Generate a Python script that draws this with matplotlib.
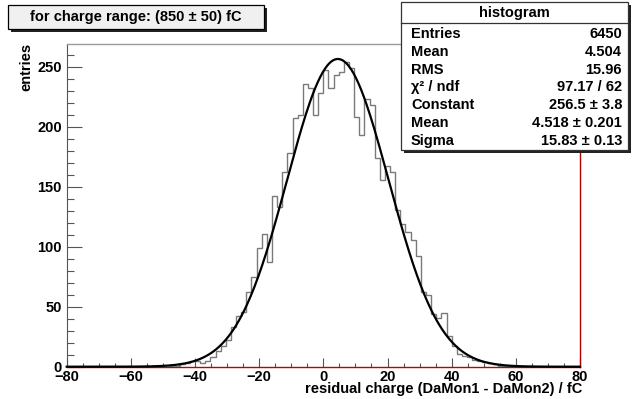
import numpy as np
import matplotlib.pyplot as plt
from matplotlib.patches import Rectangle
from matplotlib.ticker import MultipleLocator

plt.rcParams['font.family'] = ['Liberation Sans', 'DejaVu Sans']
plt.rcParams['font.weight'] = 'bold'

# ---- histogram: 100 bins from -80 to 80 fC ----
bin_lo = -80.0
bin_hi = 80.0
counts = [
    0, 0, 0, 0, 0, 0, 0, 0, 0, 0,
    0, 0, 0, 0, 0, 0, 0, 0, 0, 0,
    1, 1, 2, 3, 5, 5, 3, 5, 8, 13,
    17, 22, 33, 42, 46, 62, 75, 99, 111, 87,
    142, 133, 162, 178, 207, 210, 236, 232, 210, 228,
    247, 232, 243, 246, 254, 249, 208, 193, 223, 218,
    174, 156, 167, 162, 131, 119, 112, 106, 92, 62,
    60, 44, 41, 45, 26, 17, 11, 9, 8, 6,
    5, 4, 3, 2, 1, 1, 1, 0, 0, 0,
    0, 0, 0, 0, 0, 0, 0, 0, 0, 0,
]

# gaussian fit result (from the stat box)
fit_const = 256.5
fit_mean = 4.518
fit_sigma = 15.83

title_text = 'for charge range: (850 \u00b1 50) fC'
stat_labels = ['Entries', 'Mean', 'RMS', '\u03c7\u00b2 / ndf', 'Constant', 'Mean', 'Sigma']
stat_values = ['6450', '4.504', '15.96', '97.17 / 62',
               '256.5 \u00b1 3.8', '4.518 \u00b1 0.201', '15.83 \u00b1 0.13']

W, H = 636, 399
fig = plt.figure(figsize=(W / 100, H / 100), dpi=100, facecolor='white')

# plot frame in pixels: x 66.7..580, y 44..366.7
ax = fig.add_axes([66.7 / W, 1 - 366.7 / H, (580 - 66.7) / W, (366.7 - 44) / H])

edges = np.linspace(bin_lo, bin_hi, len(counts) + 1)
ax.stairs(counts, edges, color='#7a7a7a', lw=1.0, zorder=3)

xs = np.linspace(bin_lo, bin_hi, 400)
ax.plot(xs, fit_const * np.exp(-0.5 * ((xs - fit_mean) / fit_sigma) ** 2),
        color='black', lw=1.6, zorder=4, clip_on=False)

ax.set_xlim(bin_lo, bin_hi)
ax.set_ylim(0, 269)

ax.xaxis.set_major_locator(MultipleLocator(20))
ax.xaxis.set_minor_locator(MultipleLocator(5))
ax.yaxis.set_major_locator(MultipleLocator(50))
ax.yaxis.set_minor_locator(MultipleLocator(10))

ax.tick_params(axis='y', which='major', direction='in', length=11, width=0.8,
               color='#555555', pad=3.6, labelsize=10.5)
ax.tick_params(axis='y', which='minor', direction='in', length=5.2, width=0.8,
               color='#555555')
ax.tick_params(axis='x', which='major', direction='in', length=6.3, width=0.8,
               color='#555555', pad=2.5, labelsize=10.5)
ax.tick_params(axis='x', which='minor', direction='in', length=3.2, width=0.8,
               color='#555555')
for lab in ax.get_xticklabels() + ax.get_yticklabels():
    lab.set_fontweight('bold')

ax.spines['left'].set_color('#555555')
ax.spines['left'].set_linewidth(0.8)
ax.spines['top'].set_color('#9a9a9a')
ax.spines['top'].set_linewidth(1.0)
ax.spines['right'].set_color('#b00000')
ax.spines['right'].set_linewidth(1.0)
ax.spines['bottom'].set_color('#c00000')
ax.spines['bottom'].set_linewidth(1.0)
ax.spines['bottom'].set_zorder(2)

fig.text(582 / W, 1 - 393 / H, 'residual charge (DaMon1 - DaMon2) / fC',
         ha='right', va='baseline', fontsize=10.5, fontweight='bold')
fig.text(26 / W, 1 - 43 / H, 'entries', rotation=90, ha='center', va='top',
         fontsize=10.5, fontweight='bold')

# ---- overlay in pixel coordinates for the ROOT style boxes ----
ov = fig.add_axes([0, 0, 1, 1])
ov.set_xlim(0, W)
ov.set_ylim(H, 0)
ov.axis('off')

# title pave
ov.add_patch(Rectangle((11, 8), 256, 24, facecolor='#222222', edgecolor='none'))
ov.add_patch(Rectangle((8, 5), 256, 24, facecolor='#f0f0f0', edgecolor='black', lw=0.9))
ov.text(136, 17.5, title_text, ha='center', va='center', fontsize=10.5, fontweight='bold')

# stat box
ov.add_patch(Rectangle((404, 5), 227, 148, facecolor='#222222', edgecolor='none'))
ov.add_patch(Rectangle((401, 2), 227, 148, facecolor='white', edgecolor='#333333', lw=0.9))
ov.plot([401, 628], [22.5, 22.5], color='#333333', lw=0.9)
ov.text(514.5, 13, 'histogram', ha='center', va='center', fontsize=10.5, fontweight='bold')
for i, (lab, val) in enumerate(zip(stat_labels, stat_values)):
    yy = 34 + 17.8 * i
    ov.text(411, yy, lab, ha='left', va='center', fontsize=10.5, fontweight='bold')
    ov.text(622, yy, val, ha='right', va='center', fontsize=10.5, fontweight='bold')

fig.savefig('out.png', dpi=100, facecolor='white')
